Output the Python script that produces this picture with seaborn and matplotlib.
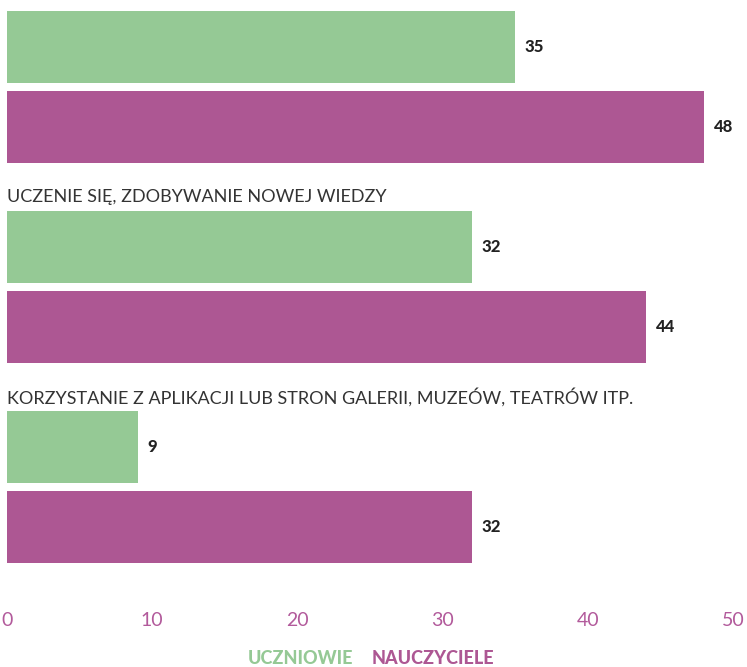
import matplotlib
matplotlib.use("Agg")
from matplotlib import pyplot as plt
import pandas as pd
import seaborn as sns

# first category label is cut off at the top of the reference
categories = ["(ukryta kategoria)",
              "UCZENIE SIĘ, ZDOBYWANIE NOWEJ WIEDZY",
              "KORZYSTANIE Z APLIKACJI LUB STRON GALERII, MUZEÓW, TEATRÓW ITP."]
show_label = [False, True, True]
uczniowie = [35, 32, 9]
nauczyciele = [48, 44, 32]
groups = ["UCZNIOWIE", "NAUCZYCIELE"]
x_ticks = [0, 10, 20, 30, 40, 50]

GREEN = "#95c995"
PURPLE = "#ad5793"

df = pd.DataFrame({
    "kategoria": categories * 2,
    "grupa": [groups[0]] * 3 + [groups[1]] * 3,
    "wartosc": uczniowie + nauczyciele,
})

sns.set_theme(style="white")
plt.rcParams["font.family"] = ["Lato", "DejaVu Sans"]

fig = plt.figure(figsize=(7.47, 6.67), dpi=100)
ax = fig.add_axes([7 / 747, 77 / 667, 726 / 747, 590 / 667])

sns.barplot(data=df, y="kategoria", x="wartosc", hue="grupa", order=categories,
            hue_order=groups, palette=[GREEN, PURPLE], orient="h",
            width=0.8, gap=0.1, saturation=1, legend=False, linewidth=0,
            ax=ax)

for cont in ax.containers:
    ax.bar_label(cont, labels=[str(int(v)) for v in cont.datavalues], padding=7,
                 fontsize=12, fontweight="black", color="#222222")

for i, (name, show) in enumerate(zip(categories, show_label)):
    if show:
        ax.text(0, i - 0.45, name, ha="left", va="center", fontsize=13,
                color="#333333")

ax.set_xlim(0, 50)
ax.set_ylim(2.515, -0.435)
ax.set_xticks(x_ticks)
ax.set_xticklabels([str(t) for t in x_ticks], color="#b25a9b", fontsize=14)
ax.tick_params(axis="x", length=0, pad=16)
ax.set_yticks([])
ax.set_xlabel("")
ax.set_ylabel("")
sns.despine(ax=ax, left=True, bottom=True)

fig.text(353 / 747, 1 - 659 / 667, groups[0], ha="right", va="center",
         fontsize=13, fontweight="black", color=GREEN)
fig.text(372 / 747, 1 - 659 / 667, groups[1], ha="left", va="center",
         fontsize=13, fontweight="black", color=PURPLE)

fig.savefig("out.png", dpi=100)
